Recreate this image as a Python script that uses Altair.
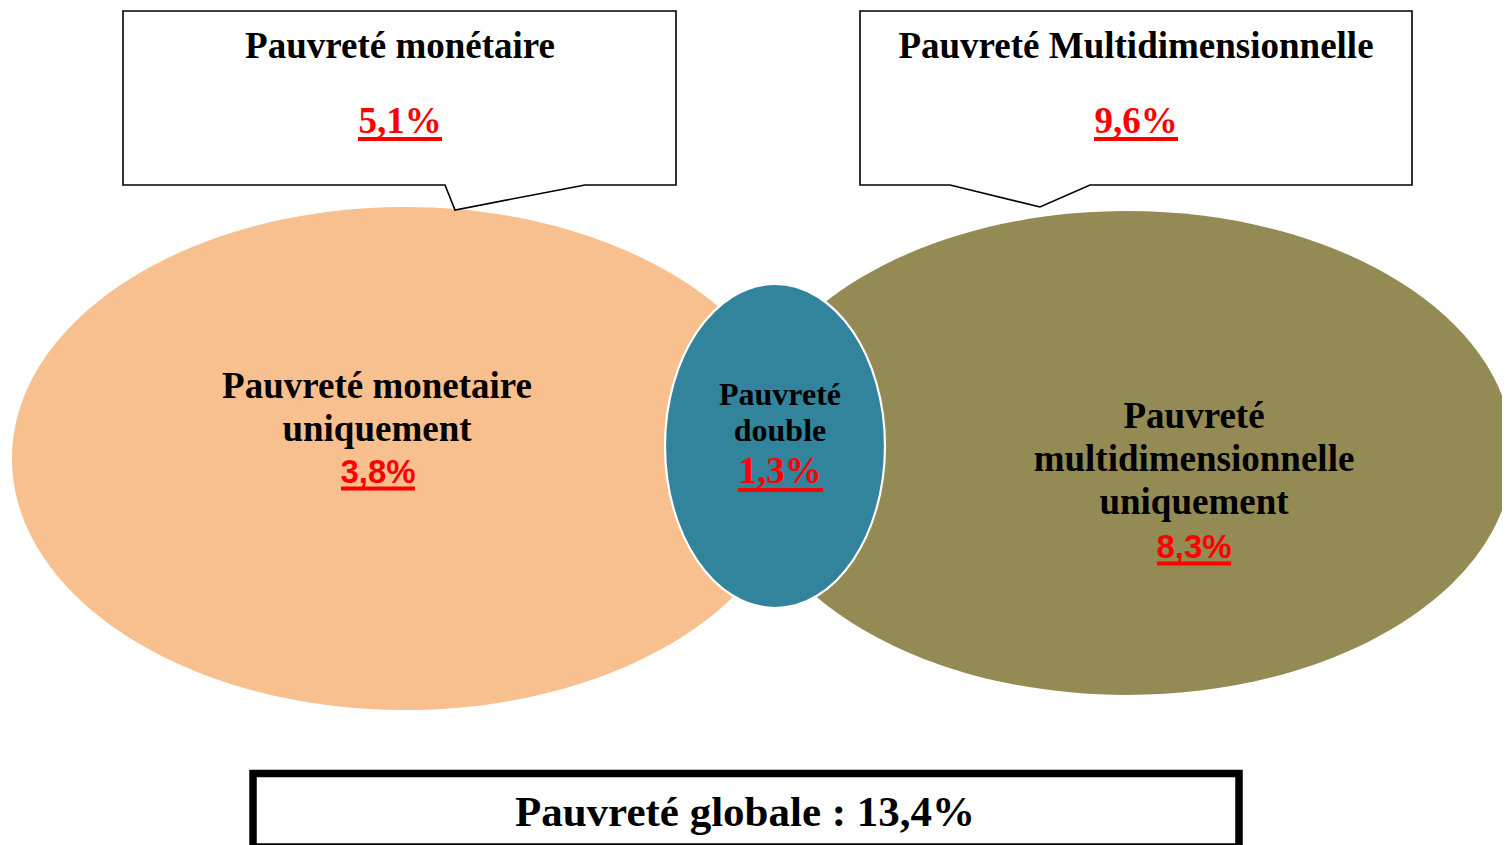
import altair as alt
import pandas as pd

# ---------------- data ----------------
box_titles = ["Pauvreté monétaire", "Pauvreté Multidimensionnelle"]
box_rates = ["5,1%", "9,6%"]
seg_names = ["monetaire", "double", "multi"]
seg_lines = [["Pauvreté monetaire", "uniquement"],
             ["Pauvreté", "double"],
             ["Pauvreté", "multidimensionnelle", "uniquement"]]
seg_rates = ["3,8%", "1,3%", "8,3%"]
seg_colors = ["#F9C08F", "#31849B", "#948A54"]
total_text = "Pauvreté globale : 13,4%"

# ---------------- layout (pixel geometry of the diagram) ----------------
W, H = 1494, 837
X0, Y0 = 8, 8
xs = alt.Scale(domain=[X0, X0 + W], range=[0, W], nice=False, zero=False)
ys = alt.Scale(domain=[Y0, Y0 + H], reverse=True, nice=False, zero=False)

# ellipses: cx, cy, rx, ry
ell_geom = {"monetaire": (405, 458.5, 393, 251.5),
            "double": (775, 446, 110, 162),
            "multi": (1127, 453, 386, 242)}
ell_stroke = {"monetaire": ("transparent", 0), "double": ("white", 2.2), "multi": ("transparent", 0)}

def ellipse_path(rx, ry):
    return (f"M {-rx} 0 A {rx} {ry} 0 1 1 {rx} 0 "
            f"A {rx} {ry} 0 1 1 {-rx} 0 Z")

# callout boxes: x1, y1, x2, y2, pointer (base-left x, tip x, tip y, base-right x)
callouts = [(123, 11, 676, 185, (445, 455, 210, 585)),
            (860, 11, 1412, 185, (950, 1040, 207, 1090))]

def callout_path(b):
    x1, y1, x2, y2, (pa, tx, ty, pb) = b
    cx, cy = (x1 + x2) / 2, (y1 + y2) / 2
    hw, hh = (x2 - x1) / 2, (y2 - y1) / 2
    return (f"M {-hw} {-hh} L {hw} {-hh} L {hw} {hh} L {pb-cx} {hh} "
            f"L {tx-cx} {ty-cy} L {pa-cx} {hh} L {-hw} {hh} Z"), cx, cy

rows = []
order = ["monetaire", "multi", "double"]
for name in order:
    i = seg_names.index(name)
    cx, cy, rx, ry = ell_geom[name]
    st, sw = ell_stroke[name]
    rows.append(dict(x=cx, y=cy, shape=ellipse_path(rx, ry), fill=seg_colors[i], stroke=st, sw=sw))
for b in callouts:
    p, cx, cy = callout_path(b)
    rows.append(dict(x=cx, y=cy, shape=p, fill="white", stroke="black", sw=1.6))
shape_df = pd.DataFrame(rows)

shapes = alt.Chart(shape_df).mark_point(filled=True, opacity=1, size=4).encode(
    x=alt.X("x:Q", scale=xs, axis=None),
    y=alt.Y("y:Q", scale=ys, axis=None),
    shape=alt.Shape("shape:N", scale=None, legend=None),
    fill=alt.Fill("fill:N", scale=None),
    stroke=alt.Stroke("stroke:N", scale=None),
    strokeWidth=alt.StrokeWidth("sw:Q", scale=None),
)

# bottom box
total_box = alt.Chart(pd.DataFrame({"x": [253], "x2": [1239], "y": [773.5], "y2": [847]})).mark_rect(
    fill="white", stroke="black", strokeWidth=7.5).encode(
    x=alt.X("x:Q", scale=xs, axis=None), x2="x2:Q",
    y=alt.Y("y:Q", scale=ys, axis=None), y2="y2:Q")

# ---- black serif labels ----
title_pos = [(400, 58), (1136, 58)]
seg_label_pos = {"monetaire": (377, [398, 441]),
                 "double": (780, [405, 441]),
                 "multi": (1194, [428, 471, 514])}
seg_label_size = {"monetaire": 37, "double": 32, "multi": 37}

lab_rows = []
for t, (x, y) in zip(box_titles, title_pos):
    lab_rows.append(dict(x=x, y=y, text=t, fs=37))
for name, lines in zip(seg_names, seg_lines):
    x, yl = seg_label_pos[name]
    for line, y in zip(lines, yl):
        lab_rows.append(dict(x=x, y=y, text=line, fs=seg_label_size[name]))
lab_df = pd.DataFrame(lab_rows)

def text_layer(df, font, color):
    return alt.Chart(df).mark_text(font=font, fontWeight="bold", baseline="alphabetic",
                                   align="center", color=color).encode(
        x=alt.X("x:Q", scale=xs, axis=None),
        y=alt.Y("y:Q", scale=ys, axis=None),
        text="text:N",
        size=alt.Size("fs:Q", scale=None, legend=None),
    )

labels = text_layer(lab_df, "Liberation Serif", "black")

# ---- red rates ----
serif_rate_rows = [dict(x=400, y=133, text=box_rates[0], fs=37, u1=358, u2=442, uy=139),
                   dict(x=1136, y=133, text=box_rates[1], fs=37, u1=1094, u2=1178, uy=139),
                   dict(x=780, y=483, text=seg_rates[1], fs=37, u1=738, u2=823, uy=490)]
sans_rate_rows = [dict(x=378, y=483, text=seg_rates[0], fs=33, u1=341, u2=415, uy=488.5),
                  dict(x=1194, y=558, text=seg_rates[2], fs=33, u1=1157, u2=1231, uy=563.5)]
serif_df = pd.DataFrame(serif_rate_rows)
sans_df = pd.DataFrame(sans_rate_rows)

rates_serif = text_layer(serif_df, "Liberation Serif", "#FF0000")
rates_sans = text_layer(sans_df, "Liberation Sans", "#FF0000")

under_df = pd.concat([serif_df, sans_df], ignore_index=True)
underlines = alt.Chart(under_df).mark_rule(color="#FF0000", strokeWidth=4).encode(
    x=alt.X("u1:Q", scale=xs, axis=None), x2="u2:Q",
    y=alt.Y("uy:Q", scale=ys, axis=None))

total_label = text_layer(pd.DataFrame([dict(x=745, y=826, text=total_text, fs=43)]),
                         "Liberation Serif", "black")

chart = alt.layer(shapes, total_box, labels, rates_serif, rates_sans, underlines, total_label).properties(
    width=W, height=H, padding=0, autosize=alt.AutoSizeParams(type="none")
).configure_view(stroke=None)

chart.save("out.html", embed_options={"renderer": "svg", "actions": False})
